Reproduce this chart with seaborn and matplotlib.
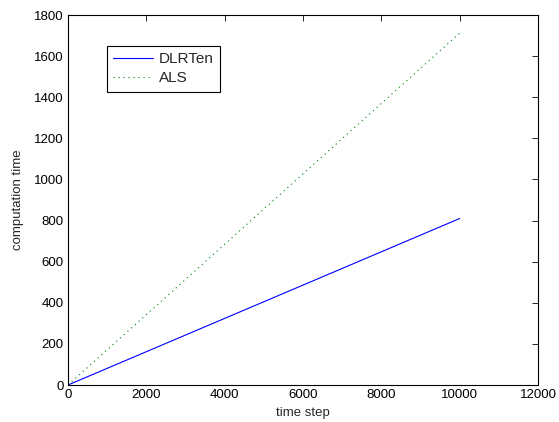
import matplotlib
matplotlib.use("Agg")
import matplotlib.pyplot as plt
import seaborn as sns
import pandas as pd

steps = [0, 10000]
dlrten = [0, 810]
als = [0, 1712]

sns.set_style("white")
plt.rcParams['font.family'] = ['Liberation Sans', 'DejaVu Sans']

df = pd.DataFrame({
    "time step": steps + steps,
    "computation time": dlrten + als,
    "method": ["DLRTen"] * len(steps) + ["ALS"] * len(steps),
})

fig = plt.figure(figsize=(5.59, 4.22), dpi=100)
ax = fig.add_axes([68/559, 37/422, 470/559, 370/422])

sns.lineplot(data=df, x="time step", y="computation time", hue="method",
             style="method", palette={"DLRTen": "#0000ff", "ALS": "#008000"},
             dashes={"DLRTen": "", "ALS": (1, 3.5)}, linewidth=0.8, ax=ax)

ax.set_xlim(0, 12000)
ax.set_ylim(0, 1800)
ax.set_xticks(range(0, 12001, 2000))
ax.set_yticks(range(0, 1801, 200))
ax.tick_params(direction="in", length=4, width=0.6, labelsize=9.5,
               top=True, right=True, colors="black", pad=3)
for s in ax.spines.values():
    s.set_color("black")
    s.set_linewidth(0.8)
ax.set_xlabel("time step", fontsize=9.5, labelpad=4)
ax.set_ylabel("computation time", fontsize=9.5, labelpad=7)

leg = ax.legend(loc="upper left", bbox_to_anchor=(39/470, 1 - 31/370),
                fontsize=11, frameon=True, fancybox=False, edgecolor="black",
                framealpha=1, handlelength=2.6, borderaxespad=0, borderpad=0.4,
                labelspacing=0.35, handletextpad=0.4)
leg.get_frame().set_linewidth(0.8)

fig.savefig("out.png", dpi=100)
